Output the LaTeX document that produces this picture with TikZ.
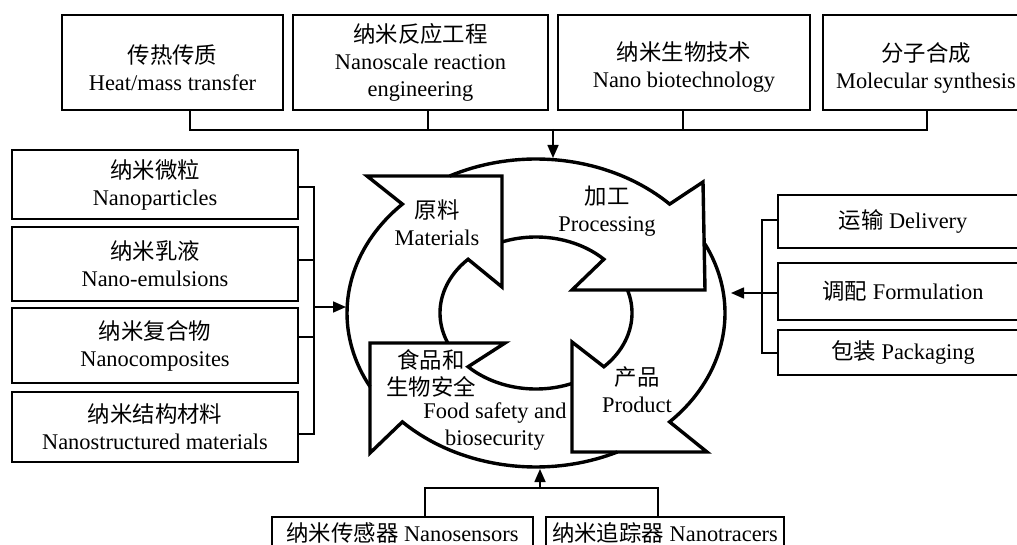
\documentclass[tikz,border=0pt]{standalone}
\usepackage{fontspec}
\setmainfont{Liberation Serif}
\newfontfamily\cjk{Noto Sans CJK SC}
\usetikzlibrary{arrows.meta,calc}
\begin{document}
\begin{tikzpicture}[x=0.5pt,y=-0.5pt,
  every node/.style={font=\fontsize{11.2}{13.5}\selectfont, align=center, inner sep=0pt},
  box/.style={draw, line width=1.1pt},
  link/.style={line width=0.8pt},
  feed/.style={line width=0.8pt, -{Triangle[length=6.5pt,width=5.5pt]}},
  ring/.style={line width=1.7pt, line join=miter},
  lbl/.style={}]
\useasboundingbox (0,0) rectangle (1017,545);
\clip (0,0) rectangle (1017,545);

% ---- top row ----
\node[box, minimum width=110.5pt, minimum height=47.5pt,
  label={[yshift=-2.5pt]center:{\cjk 传热传质}\\Heat/mass transfer}] (t1) at (172.5,62.5) {};
\node[box, minimum width=127.5pt, minimum height=47.5pt] (t2) at (420.5,62.5) {{\cjk 纳米反应工程}\\Nanoscale reaction\\engineering};
\node[box, minimum width=126pt, minimum height=47.5pt,
  label={[yshift=-2.5pt]center:{\cjk 纳米生物技术}\\Nano biotechnology}] (t3) at (684,62.5) {};
\node[box, minimum width=103pt, minimum height=47.5pt,
  label={[yshift=-2.5pt]center:{\cjk 分子合成}\\Molecular synthesis}] (t4) at (926,62.5) {};

% ---- left column ----
\node[box, minimum width=143pt, minimum height=34.5pt] (l1) at (155,184.5) {{\cjk 纳米微粒}\\Nanoparticles};
\node[box, minimum width=143pt, minimum height=37pt] (l2) at (155,264) {{\cjk 纳米乳液}\\Nano-emulsions};
\node[box, minimum width=143pt, minimum height=37.5pt] (l3) at (155,345.5) {{\cjk 纳米复合物}\\Nanocomposites};
\node[box, minimum width=143pt, minimum height=35pt] (l4) at (155,427) {{\cjk 纳米结构材料}\\Nanostructured materials};

% ---- right column ----
\node[box, minimum width=125pt, minimum height=26.5pt] (r1) at (903,221.5) {{\cjk 运输} Delivery};
\node[box, minimum width=125pt, minimum height=28.5pt] (r2) at (903,291.5) {{\cjk 调配} Formulation};
\node[box, minimum width=125pt, minimum height=22.5pt] (r3) at (903,352.5) {{\cjk 包装} Packaging};

% ---- bottom row ----
\node[box, minimum width=130.5pt, minimum height=16pt] (b1) at (402.5,533) {{\cjk 纳米传感器} Nanosensors};
\node[box, minimum width=119pt, minimum height=16pt] (b2) at (665,533) {{\cjk 纳米追踪器} Nanotracers};

% ---- cycle of four curved arrows ----
% outer ring: centre (536,313), radii 189 x 154; inner ring: radii 96 x 76
\draw[ring] plot[domain=151.4:225, samples=40] ({536+189*cos(\x)},{313+154*sin(\x)})
  -- (367,176) -- (502,176) -- (502,287)
  -- plot[domain=225:156.8, samples=40] ({536+96*cos(\x)},{313+76*sin(\x)});
\draw[ring] plot[domain=242.8:315, samples=40] ({536+189*cos(\x)},{313+154*sin(\x)})
  -- (703,182) -- (705,290) -- (572,290)
  -- plot[domain=315:249.3, samples=40] ({536+96*cos(\x)},{313+76*sin(\x)});
\draw[ring] plot[domain=333.4:405, samples=40] ({536+189*cos(\x)},{313+154*sin(\x)})
  -- (707,452) -- (572,452) -- (572,342)
  -- plot[domain=405:342.4, samples=40] ({536+96*cos(\x)},{313+76*sin(\x)});
\draw[ring] plot[domain=64.5:135, samples=40] ({536+189*cos(\x)},{313+154*sin(\x)})
  -- (370,453) -- (370,343) -- (505,343)
  -- plot[domain=135:68, samples=40] ({536+96*cos(\x)},{313+76*sin(\x)});

\node[lbl] (mat) at (437,223) {{\cjk 原料}\\Materials};
\node[lbl] (proc) at (607,211) {{\cjk 加工}\\Processing};
\node[lbl] (prod) at (637,390) {{\cjk 产品}\\Product};
\node[lbl] (foodcn) at (431,373) {{\cjk 食品和}\\{\cjk 生物安全}};
\node[lbl] (fooden) at (495,427) {Food safety and\\biosecurity};

% ---- connectors ----
\coordinate (tbus) at (553,129);
\coordinate (ringT) at (553,158);
\draw[link] ($(t1.south)+(17.5,0)$) -- ++(0,19) -- ++(737,0) -- ($(t4.south)+(1,0)$);
\draw[link] ($(t2.south)+(7.5,0)$) -- ++(0,19);
\draw[link] ($(t3.south)+(-1,0)$) -- ++(0,19);
\draw[feed] (tbus) -- (ringT);

\coordinate (lbus) at (313,307);
\coordinate (ringL) at (346,307);
\draw[link] ($(l1.east)+(0,2.5)$) -- ++(15,0) -- ++(0,247) -- ($(l4.east)+(0,7)$);
\draw[link] ($(l2.east)+(0,-4)$) -- ++(15,0);
\draw[link] ($(l3.east)+(0,-8.5)$) -- ++(15,0);
\draw[feed] (lbus) -- (ringL);

\coordinate (ringR) at (731,293);
\draw[link] ($(r1.west)+(0,-1.5)$) -- ++(-15,0) -- ++(0,133) -- ($(r3.west)+(0,0.5)$);
\draw[feed] ($(r2.west)+(0,1.5)$) -- (ringR);

\coordinate (bbus) at (540,489);
\coordinate (ringB) at (540,469);
\draw[link] ($(b1.north)+(22.5,0)$) -- ++(0,-28) -- ++(233,0) -- ($(b2.north)+(-7,0)$);
\draw[feed] (bbus) -- (ringB);
\end{tikzpicture}
\end{document}
